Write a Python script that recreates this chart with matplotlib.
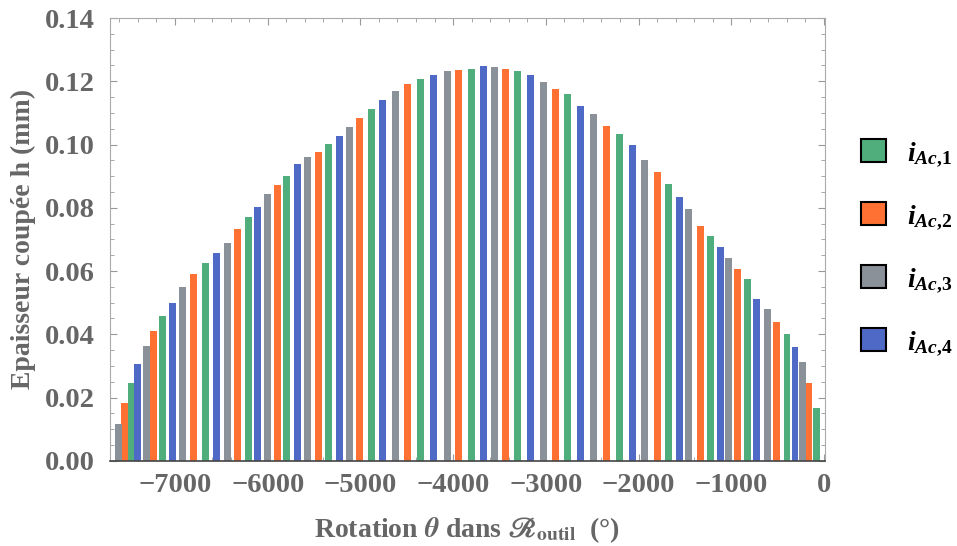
import matplotlib.pyplot as plt
from matplotlib.patches import Patch
from matplotlib.ticker import MultipleLocator, FormatStrFormatter

plt.rcParams['font.family'] = 'Liberation Serif'
plt.rcParams['font.weight'] = 'bold'
plt.rcParams['mathtext.fontset'] = 'custom'
plt.rcParams['mathtext.rm'] = 'Liberation Serif:bold'
plt.rcParams['mathtext.it'] = 'Liberation Serif:italic:bold'
plt.rcParams['mathtext.bf'] = 'Liberation Serif:bold'
plt.rcParams['mathtext.default'] = 'it'

# rotation angle (deg) and chip thickness (mm) at each tooth passage, per insert
theta_1 = [-7468, -7134, -6670, -6207, -5797, -5345, -4881, -4353, -3804, -3308,
           -2769, -2209, -1681, -1228, -830, -399, -86]
h_1 = [0.0247, 0.0458, 0.0626, 0.0771, 0.0901, 0.1002, 0.1112, 0.1207, 0.1239, 0.1232,
       0.1160, 0.1033, 0.0875, 0.0711, 0.0575, 0.0401, 0.0167]

theta_2 = [-7543, -7231, -6800, -6325, -5894, -5453, -5011, -4494, -3944, -3438,
           -2899, -2349, -1800, -1336, -938, -517, -162]
h_2 = [0.0183, 0.0411, 0.0590, 0.0733, 0.0872, 0.0977, 0.1084, 0.1191, 0.1235, 0.1239,
       0.1175, 0.1059, 0.0913, 0.0743, 0.0607, 0.0439, 0.0246]

theta_3 = [-7608, -7306, -6918, -6433, -6002, -5571, -5119, -4623, -4062, -3556,
           -3028, -2489, -1940, -1466, -1034, -614, -237]
h_3 = [0.0117, 0.0363, 0.0550, 0.0690, 0.0844, 0.0961, 0.1055, 0.1169, 0.1232, 0.1245,
       0.1198, 0.1096, 0.0951, 0.0796, 0.0641, 0.0480, 0.0313]

theta_4 = [-7403, -7026, -6552, -6110, -5679, -5226, -4763, -4213, -3675, -3168,
           -2629, -2069, -1562, -1121, -733, -313]
h_4 = [0.0307, 0.0500, 0.0657, 0.0803, 0.0939, 0.1027, 0.1141, 0.1220, 0.1248, 0.1220,
       0.1122, 0.0999, 0.0834, 0.0676, 0.0512, 0.0360]

labels = [r"$i_{Ac{,}\mathit{1}}$", r"$i_{Ac{,}\mathit{2}}$",
          r"$i_{Ac{,}\mathit{3}}$", r"$i_{Ac{,}\mathit{4}}$"]
colors = ["#4fae7b", "#fe7133", "#8b9199", "#4e69c6"]

txt = "#666666"

fig = plt.figure(figsize=(9.57, 5.46), dpi=100)
ax = fig.add_axes([0.115, 0.156, 0.747, 0.811])

series = [(theta_1, h_1), (theta_2, h_2), (theta_3, h_3), (theta_4, h_4)]
for (t, h), c in zip(series, colors):
    ax.bar(t, h, width=75, color=c, linewidth=0, zorder=2)

ax.set_xlim(-7700, 10)
ax.set_ylim(0, 0.14)
ax.xaxis.set_major_locator(MultipleLocator(1000))
ax.xaxis.set_minor_locator(MultipleLocator(200))
ax.yaxis.set_major_locator(MultipleLocator(0.02))
ax.yaxis.set_minor_locator(MultipleLocator(0.005))
ax.yaxis.set_major_formatter(FormatStrFormatter('%.2f'))

ax.tick_params(which='both', direction='in', top=True, right=True, colors='#999999',
               labelcolor=txt, labelsize=20.5)
ax.tick_params(which='major', length=5, width=0.8)
ax.tick_params(which='minor', length=3, width=0.6)
ax.tick_params(axis='x', pad=9)
ax.tick_params(axis='y', pad=11)
for s in ax.spines.values():
    s.set_color('#aaaaaa')
ax.spines['bottom'].set_color('#444444')
ax.spines['bottom'].set_linewidth(1.2)
ax.spines['bottom'].set_zorder(3)

ax.set_ylabel("Epaisseur coupée h (mm)", fontsize=20, fontweight='bold', color=txt,
              labelpad=6)
ax.set_xlabel(r"Rotation $\theta$ dans $ℛ_{\mathbf{outil}}$  (°)", fontsize=20,
              fontweight='bold', color=txt, labelpad=12, math_fontfamily='stix')

handles = [Patch(facecolor=c, edgecolor='black', linewidth=1.5) for c in colors]
fig.legend(handles, labels, loc='center left', bbox_to_anchor=(0.874, 0.545),
           frameon=False, fontsize=20, handlelength=0.9, handleheight=0.9,
           labelspacing=1.2, handletextpad=0.75)

fig.savefig("out.png", dpi=100)
